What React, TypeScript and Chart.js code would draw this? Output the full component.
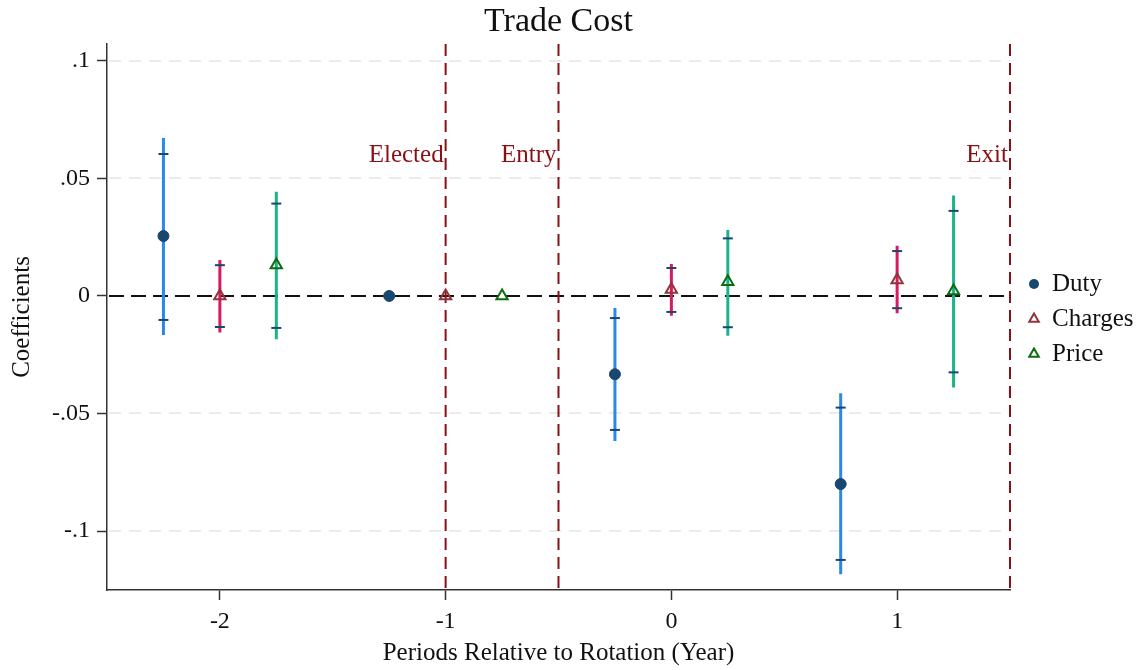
import React, { useEffect, useRef } from "react";
import { Chart, registerables } from "chart.js";

Chart.register(...registerables);

// ---------- data ----------
const periods = [-2, -1, 0, 1];
const seriesNames = ["Duty", "Charges", "Price"];
const seriesOffsets = [-0.25, 0, 0.25];

const dutyCoef = [0.0255, 0, -0.0333, -0.08];
const dutyHi95 = [0.0672, null, -0.0051, -0.0414];
const dutyLo95 = [-0.0166, null, -0.0617, -0.1184];
const dutyHi90 = [0.0604, null, -0.0094, -0.0475];
const dutyLo90 = [-0.0102, null, -0.057, -0.1123];

const chargesCoef = [0, 0, 0.0028, 0.0068];
const chargesHi95 = [0.0153, null, 0.0136, 0.0214];
const chargesLo95 = [-0.0155, null, -0.0084, -0.0074];
const chargesHi90 = [0.0131, null, 0.0119, 0.0191];
const chargesLo90 = [-0.0132, null, -0.0068, -0.0052];

const priceCoef = [0.0132, 0, 0.0061, 0.0021];
const priceHi95 = [0.0443, null, 0.0281, 0.0427];
const priceLo95 = [-0.0184, null, -0.0169, -0.0389];
const priceHi90 = [0.0393, null, 0.0245, 0.0362];
const priceLo90 = [-0.0136, null, -0.0133, -0.0325];

const xTicks = [-2, -1, 0, 1];
const xTickLabels = ["-2", "-1", "0", "1"];
const yTicks = [0.1, 0.05, 0, -0.05, -0.1];
const yTickLabels = [".1", ".05", "0", "-.05", "-.1"];

const eventLines = [-1, -0.5, 1.5];
const eventLabels = ["Elected", "Entry", "Exit"];
const eventLabelY = 0.0596;

// ---------- styles ----------
const FONT = "'Liberation Serif', 'Times New Roman', serif";
const markerColors = ["#1a476f", "#90353b", "#0e6b10"];
const ciColors = ["#2a88e8", "#d81b60", "#1db38a"];
const capColor = "#1a476f";
const eventColor = "#8b1015";

const coefs = [dutyCoef, chargesCoef, priceCoef];
const hi95 = [dutyHi95, chargesHi95, priceHi95];
const lo95 = [dutyLo95, chargesLo95, priceLo95];
const hi90 = [dutyHi90, chargesHi90, priceHi90];
const lo90 = [dutyLo90, chargesLo90, priceLo90];

function buildDatasets() {
  const ds: any[] = [];
  seriesNames.forEach((name, s) => {
    const ci: any[] = [];
    const caps: any[] = [];
    const pts: any[] = [];
    periods.forEach((p, i) => {
      const x = p + seriesOffsets[s];
      pts.push({ x, y: coefs[s][i] });
      if (lo95[s][i] !== null && hi95[s][i] !== null) {
        ci.push({ x, y: lo95[s][i] });
        ci.push({ x, y: hi95[s][i] });
        ci.push({ x, y: null });
      }
      if (lo90[s][i] !== null) caps.push({ x, y: lo90[s][i] });
      if (hi90[s][i] !== null) caps.push({ x, y: hi90[s][i] });
    });
    ds.push({
      label: name + " CI",
      data: ci,
      showLine: true,
      spanGaps: false,
      borderColor: ciColors[s],
      borderWidth: 3,
      pointRadius: 0,
      order: 3,
    });
    ds.push({
      label: name + " 90",
      data: caps,
      showLine: false,
      pointStyle: "line",
      pointRadius: 5,
      borderColor: capColor,
      borderWidth: 2,
      order: 2,
    });
    ds.push({
      label: name,
      data: pts,
      showLine: false,
      pointStyle: s === 0 ? "circle" : "triangle",
      pointRadius: s === 0 ? 5.5 : 6.5,
      backgroundColor: s === 0 ? markerColors[s] : "rgba(0,0,0,0)",
      borderColor: markerColors[s],
      borderWidth: s === 0 ? 1 : 2,
      order: 1,
    });
  });
  return ds;
}

const decorPlugin = {
  id: "decor",
  beforeDatasetsDraw(chart: any) {
    const { ctx, chartArea, scales } = chart;
    const xs = scales.x;
    const ys = scales.y;
    ctx.save();
    // grid lines
    ctx.strokeStyle = "#ebebeb";
    ctx.lineWidth = 2;
    ctx.setLineDash([12, 8]);
    yTicks.forEach((v) => {
      if (v === 0) return;
      const y = Math.round(ys.getPixelForValue(v));
      ctx.beginPath();
      ctx.moveTo(chartArea.left + 2, y);
      ctx.lineTo(chartArea.right, y);
      ctx.stroke();
    });
    // zero line
    const y0 = ys.getPixelForValue(0);
    ctx.strokeStyle = "#111";
    ctx.lineWidth = 2;
    ctx.setLineDash([15, 7]);
    ctx.beginPath();
    ctx.moveTo(chartArea.left + 2, y0);
    ctx.lineTo(chartArea.right, y0);
    ctx.stroke();
    // event lines
    ctx.strokeStyle = eventColor;
    ctx.lineWidth = 2;
    ctx.setLineDash([12, 7]);
    eventLines.forEach((v) => {
      const x = xs.getPixelForValue(v);
      ctx.beginPath();
      ctx.moveTo(x, chartArea.top);
      ctx.lineTo(x, chartArea.bottom);
      ctx.stroke();
    });
    ctx.setLineDash([]);
    ctx.fillStyle = eventColor;
    ctx.font = `25px ${FONT}`;
    ctx.textAlign = "right";
    ctx.textBaseline = "middle";
    eventLines.forEach((v, i) => {
      const x = xs.getPixelForValue(v);
      ctx.fillText(eventLabels[i], x - 2, ys.getPixelForValue(eventLabelY));
    });
    ctx.restore();
  },
  afterDraw(chart: any) {
    const { ctx, chartArea } = chart;
    ctx.save();
    ctx.fillStyle = "#111";
    ctx.textAlign = "center";
    ctx.textBaseline = "middle";
    // title
    ctx.font = `34px ${FONT}`;
    ctx.fillText("Trade Cost", (chartArea.left + chartArea.right) / 2, 22);
    // axis titles
    ctx.font = `25px ${FONT}`;
    ctx.fillText(
      "Periods Relative to Rotation (Year)",
      (chartArea.left + chartArea.right) / 2,
      653
    );
    ctx.save();
    ctx.translate(22, (chartArea.top + chartArea.bottom) / 2);
    ctx.rotate(-Math.PI / 2);
    ctx.fillText("Coefficients", 0, 0);
    ctx.restore();
    // legend
    const lx = 1034;
    const rows = [284, 319, 354];
    ctx.textAlign = "left";
    seriesNames.forEach((name, s) => {
      const y = rows[s];
      ctx.strokeStyle = markerColors[s];
      ctx.fillStyle = markerColors[s];
      ctx.lineWidth = 2;
      if (s === 0) {
        ctx.beginPath();
        ctx.arc(lx, y, 5, 0, Math.PI * 2);
        ctx.fill();
      } else {
        const r = 5.5;
        ctx.beginPath();
        ctx.moveTo(lx, y - r);
        ctx.lineTo(lx + r * 0.866, y + r * 0.5);
        ctx.lineTo(lx - r * 0.866, y + r * 0.5);
        ctx.closePath();
        ctx.stroke();
      }
      ctx.fillStyle = "#111";
      ctx.fillText(name, 1052, y);
    });
    ctx.restore();
  },
};

export default function App() {
  const ref = useRef<HTMLCanvasElement | null>(null);
  useEffect(() => {
    if (!ref.current) return;
    Chart.defaults.font.family = FONT;
    Chart.defaults.color = "#111";
    const chart = new Chart(ref.current, {
      type: "scatter",
      data: { datasets: buildDatasets() },
      plugins: [decorPlugin],
      options: {
        animation: false,
        responsive: false,
        devicePixelRatio: 1,
        layout: { padding: { top: 44, right: 132, left: 0, bottom: 0 } },
        plugins: {
          legend: { display: false },
          title: { display: false },
          tooltip: { enabled: false },
        },
        scales: {
          x: {
            type: "linear",
            min: -2.5,
            max: 1.5,
            afterFit: (scale: any) => {
              scale.height = 80;
            },
            afterBuildTicks: (scale: any) => {
              scale.ticks = xTicks.map((v) => ({ value: v }));
            },
            ticks: {
              font: { size: 24, family: FONT },
              color: "#111",
              padding: 7,
              maxRotation: 0,
              callback: (value: any) => {
                const i = xTicks.indexOf(Number(value));
                return i >= 0 ? xTickLabels[i] : "";
              },
            },
            grid: {
              display: true,
              drawOnChartArea: false,
              drawTicks: true,
              tickLength: 10,
              tickColor: "#333",
              tickWidth: 1.5,
            },
            border: { display: true, color: "#333", width: 1.5 },
          },
          y: {
            type: "linear",
            min: -0.1251,
            max: 0.1072,
            afterFit: (scale: any) => {
              scale.width = 107;
            },
            afterBuildTicks: (scale: any) => {
              scale.ticks = yTicks.map((v) => ({ value: v }));
            },
            ticks: {
              font: { size: 24, family: FONT },
              color: "#111",
              padding: 7,
              callback: (value: any) => {
                const i = yTicks.findIndex((v) => Math.abs(v - Number(value)) < 1e-9);
                return i >= 0 ? yTickLabels[i] : "";
              },
            },
            grid: {
              display: true,
              drawOnChartArea: false,
              drawTicks: true,
              tickLength: 10,
              tickColor: "#333",
              tickWidth: 1.5,
            },
            border: { display: true, color: "#333", width: 1.5 },
          },
        },
      } as any,
    });
    return () => chart.destroy();
  }, []);
  return (
    <div
      style={{
        position: "fixed",
        left: 0,
        top: 0,
        width: 1142,
        height: 670,
        background: "#fff",
      }}
    >
      <canvas ref={ref} width={1142} height={670} />
    </div>
  );
}
